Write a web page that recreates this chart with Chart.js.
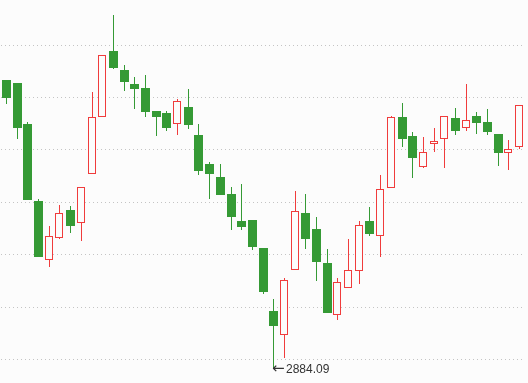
<!DOCTYPE html>
<html>
<head>
<meta charset="utf-8">
<script src="https://cdn.jsdelivr.net/npm/chart.js@4/dist/chart.umd.min.js"></script>
<style>
    html, body { margin: 0; padding: 0; background: #fcfcfc; }
    #wrap { width: 528px; height: 383px; position: relative; }
</style>
</head>
<body>
<div id="wrap"><canvas id="kline"></canvas></div>
<script>
// daily candles, oldest first
const days = Array.from({length: 49}, (_, i) => 'D' + (i + 1));
const opens = [3158.61, 3155.75, 3116.63, 3043.16, 2986.57, 3007.56, 3034.57, 3021.88, 3068.63, 3123.50,
    3186.00, 3167.87, 3154.80, 3150.98, 3129.03, 3127.13, 3116.92, 3132.85, 3106.13, 3078.46,
    3066.06, 3049.84, 3024.07, 3025.03, 2998.31, 2938.19, 2915.01, 2977.03, 3031.71, 3016.44,
    2984.00, 2934.09, 2960.43, 2976.65, 3024.07, 3010.05, 3055.85, 3123.31, 3105.18, 3075.88,
    3097.26, 3102.03, 3122.07, 3112.53, 3123.98, 3118.54, 3107.09, 3088.67, 3094.40];
const highs = [3158.61, 3155.75, 3118.54, 3045.06, 3019.30, 3039.34, 3038.38, 3056.23, 3147.16, 3182.18,
    3220.64, 3172.93, 3161.48, 3163.38, 3129.03, 3129.03, 3140.48, 3150.03, 3116.63, 3080.37,
    3078.46, 3056.51, 3059.38, 3025.03, 2998.31, 2949.64, 2969.68, 3052.70, 3049.84, 3027.89,
    2997.35, 2969.40, 3006.61, 3024.07, 3037.43, 3067.96, 3124.26, 3136.67, 3109.00, 3104.22,
    3112.81, 3123.98, 3131.90, 3154.80, 3128.08, 3130.94, 3107.09, 3101.08, 3134.47];
const lows = [3136.00, 3102.60, 3044.40, 2990.01, 2980.46, 3006.61, 3012.91, 3005.27, 3068.63, 3123.02,
    3169.40, 3148.40, 3130.94, 3123.59, 3105.46, 3110.24, 3106.42, 3112.14, 3068.25, 3045.35,
    3049.17, 3015.77, 3015.77, 2996.69, 2954.70, 2884.09, 2893.63, 2977.03, 2997.64, 2967.11,
    2936.57, 2929.32, 2960.43, 2964.24, 3010.05, 2990.01, 3055.85, 3094.68, 3065.39, 3074.93,
    3090.20, 3074.93, 3106.42, 3109.66, 3107.37, 3106.42, 3076.84, 3073.02, 3092.49];
const closes = [3141.72, 3113.10, 3044.40, 2990.01, 3009.76, 3031.42, 3019.59, 3056.23, 3123.02, 3182.18,
    3170.35, 3156.99, 3150.31, 3128.37, 3123.59, 3113.10, 3138.29, 3115.96, 3072.07, 3069.21,
    3049.17, 3028.17, 3018.63, 2999.55, 2956.61, 2924.16, 2967.77, 3033.33, 3007.18, 2985.24,
    2936.57, 2965.58, 2977.03, 3020.25, 3011.67, 3054.32, 3123.31, 3102.60, 3084.47, 3089.63,
    3100.12, 3123.98, 3110.24, 3120.16, 3117.87, 3109.28, 3089.24, 3092.49, 3134.47];
const gridValues = [2892, 2942, 2992, 3042, 3092, 3142, 3192];

const UP = '#f03c3c';
const DOWN = '#359a35';
const BG = '#fcfcfc';

const isUp = closes.map((c, i) => c >= opens[i]);
const wicks = days.map((_, i) => [lows[i], highs[i]]);
const upBodies = days.map((_, i) => isUp[i] ? [opens[i], closes[i]] : null);
const downBodies = days.map((_, i) => isUp[i] ? null : [closes[i], opens[i]]);

// snap bars to whole pixels so the 1px outlines stay sharp
const pixelSnap = {
    id: 'pixelSnap',
    beforeDatasetsDraw(chart) {
        chart.data.datasets.forEach((ds, i) => {
            chart.getDatasetMeta(i).data.forEach(el => {
                if (el.skip || el.width == null) return;
                const odd = Math.round(el.width) % 2 === 1;
                el.x = Math.floor(el.x) + (odd ? 0.5 : 0);
                el.y = Math.round(el.y);
                el.base = Math.round(el.base);
            });
        });
    }
};

// marks the lowest low with an arrow and its value
const lowMarker = {
    id: 'lowMarker',
    afterDatasetsDraw(chart) {
        let idx = 0;
        lows.forEach((v, i) => { if (v < lows[idx]) idx = i; });
        const x = Math.floor(chart.scales.x.getPixelForValue(idx));
        const y = chart.scales.y.getPixelForValue(lows[idx]);
        const ctx = chart.ctx;
        ctx.save();
        ctx.fillStyle = '#333';
        ctx.textBaseline = 'middle';
        ctx.textAlign = 'left';
        ctx.font = '15px "DejaVu Sans", sans-serif';
        ctx.fillText('\u2190', x - 1, y + 1);
        ctx.font = '12px "Liberation Sans", Arial, sans-serif';
        ctx.fillText(lows[idx].toFixed(2), x + 13, y + 1.5);
        ctx.restore();
    }
};

new Chart(document.getElementById('kline'), {
    type: 'bar',
    data: {
        labels: days,
        datasets: [{
            label: 'up',
            data: upBodies,
            backgroundColor: BG,
            borderColor: UP,
            borderWidth: 1,
            borderSkipped: false,
            inflateAmount: 0,
            barThickness: 8,
            grouped: false,
            order: 0
        }, {
            label: 'down',
            data: downBodies,
            backgroundColor: DOWN,
            borderWidth: 0,
            inflateAmount: 0,
            barThickness: 9,
            grouped: false,
            order: 0
        }, {
            label: 'wick',
            data: wicks,
            backgroundColor: isUp.map(u => u ? UP : DOWN),
            borderWidth: 0,
            inflateAmount: 0,
            barThickness: 1,
            grouped: false,
            order: 1
        }]
    },
    options: {
        responsive: true,
        maintainAspectRatio: false,
        animation: false,
        layout: { padding: { left: 1.2, right: 3, top: 0, bottom: 0 } },
        plugins: {
            legend: { display: false },
            tooltip: { enabled: false }
        },
        scales: {
            x: { display: false, offset: true },
            y: {
                min: 2869.5,
                max: 3234.95,
                ticks: { display: false },
                border: { display: false, dash: [1, 3] },
                grid: { color: '#c4c4c4', drawTicks: false },
                afterBuildTicks: axis => { axis.ticks = gridValues.map(v => ({ value: v })); },
                afterFit: axis => { axis.width = 0; }
            }
        }
    },
    plugins: [pixelSnap, lowMarker]
});
</script>
</body>
</html>
